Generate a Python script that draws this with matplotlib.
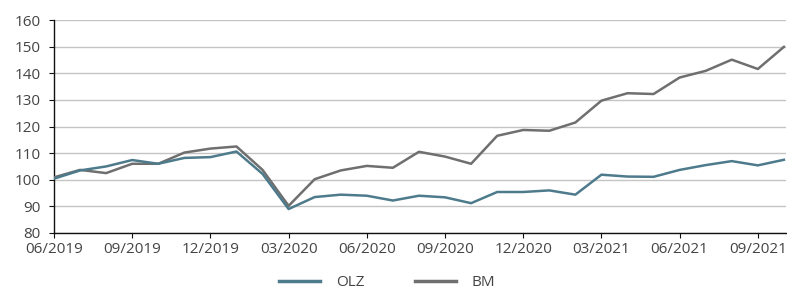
import matplotlib
matplotlib.use("Agg")
import matplotlib.pyplot as plt
from matplotlib.lines import Line2D

months = ["06/2019", "07/2019", "08/2019", "09/2019", "10/2019", "11/2019", "12/2019",
          "01/2020", "02/2020", "03/2020", "04/2020", "05/2020", "06/2020", "07/2020",
          "08/2020", "09/2020", "10/2020", "11/2020", "12/2020", "01/2021", "02/2021",
          "03/2021", "04/2021", "05/2021", "06/2021", "07/2021", "08/2021", "09/2021",
          "10/2021"]
olz = [100.4, 103.5, 105.0, 107.4, 106.0, 108.2, 108.5, 110.6, 102.2, 89.0, 93.5, 94.4,
       94.0, 92.2, 94.0, 93.4, 91.2, 95.4, 95.4, 96.0, 94.4, 101.9, 101.2, 101.1, 103.7,
       105.5, 107.0, 105.4, 107.5]
bm = [100.9, 103.7, 102.5, 106.0, 106.0, 110.2, 111.7, 112.5, 103.7, 90.2, 100.2, 103.5,
      105.2, 104.5, 110.5, 108.7, 106.0, 116.5, 118.7, 118.4, 121.5, 129.7, 132.5, 132.2,
      138.4, 140.9, 145.1, 141.6, 149.9]
yticks = [80, 90, 100, 110, 120, 130, 140, 150, 160]

plt.rcParams["font.family"] = ["Open Sans", "DejaVu Sans"]

OLZ_COLOR = "#4d7b8c"
BM_COLOR = "#6f6f6f"
TEXT_COLOR = "#444444"

fig = plt.figure(figsize=(7.87, 2.89), dpi=100)
ax = fig.add_axes([54 / 787, 56 / 289, 732 / 787, 213 / 289])

x = list(range(len(months)))
ax.plot(x, bm, color=BM_COLOR, linewidth=1.8, zorder=3)
ax.plot(x, olz, color=OLZ_COLOR, linewidth=1.8, zorder=4)

ax.set_xlim(0, 28.08)
ax.set_ylim(80, 160)
ax.set_yticks(yticks)
ax.set_xticks(x[::3])
ax.set_xticklabels(months[::3])

ax.grid(True, axis="y", color="#c4c4c4", linewidth=1)
ax.set_axisbelow(True)
for side in ["top", "right"]:
    ax.spines[side].set_visible(False)
for side in ["left", "bottom"]:
    ax.spines[side].set_color("#111111")
    ax.spines[side].set_linewidth(1)
ax.tick_params(axis="both", colors="#111111", labelcolor=TEXT_COLOR, labelsize=11,
               length=3.6, width=0.8)
ax.tick_params(axis="y", pad=6)
ax.tick_params(axis="x", pad=3)

handles = [Line2D([], [], color=OLZ_COLOR, linewidth=2.5),
           Line2D([], [], color=BM_COLOR, linewidth=2.5)]
fig.legend(handles, ["OLZ", "BM"], loc="center", bbox_to_anchor=(387 / 787, 1 - 283 / 289),
           ncol=2, frameon=False, fontsize=11, handlelength=2.7, handletextpad=1.0,
           columnspacing=3.3, labelcolor=TEXT_COLOR)

fig.savefig("out.png", dpi=100)
